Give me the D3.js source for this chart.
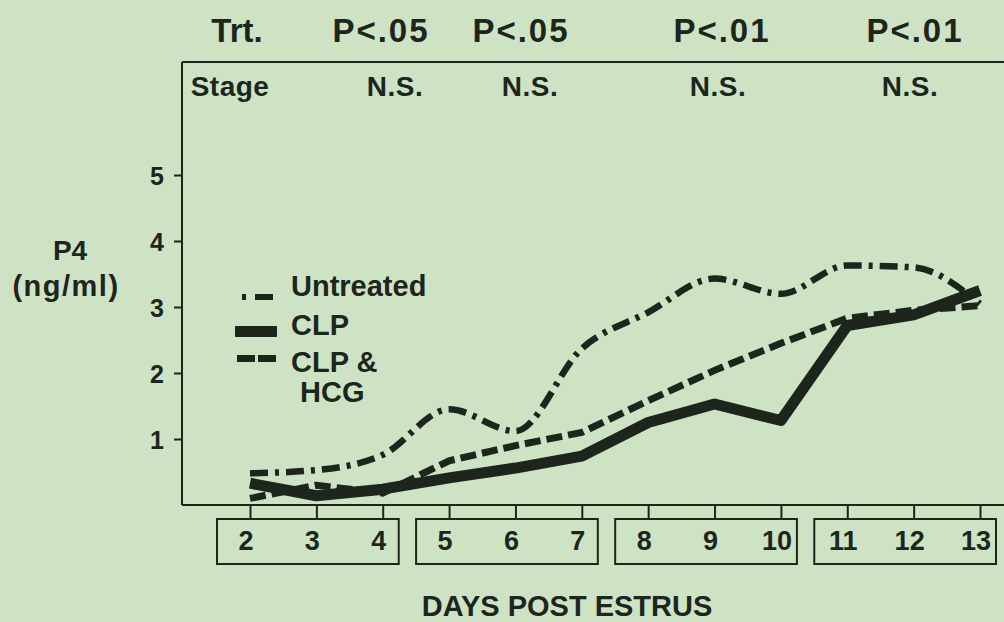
<!DOCTYPE html>
<html>
<head>
<meta charset="utf-8">
<script src="https://cdn.jsdelivr.net/npm/d3@7"></script>
<style>
  html, body { margin: 0; padding: 0; background: #cee3c4; }
  svg { display: block; }
  text { fill: #1d261d; font-family: "Liberation Sans", Arial, Helvetica, sans-serif; font-weight: bold; }
</style>
</head>
<body>
<svg id="chart" width="1004" height="622"></svg>
<script>
// ---- data ----
const days = [2, 3, 4, 5, 6, 7, 8, 9, 10, 11, 12, 13];
const untreated = [0.48, 0.53, 0.76, 1.45, 1.12, 2.37, 2.92, 3.43, 3.20, 3.63, 3.60, 3.05];
const clp = [0.33, 0.14, 0.24, 0.41, 0.56, 0.74, 1.25, 1.53, 1.28, 2.72, 2.88, 3.25];
const clpHcg = [0.10, 0.30, 0.18, 0.67, 0.90, 1.10, 1.58, 2.04, 2.45, 2.83, 2.95, 3.02];
const yTicks = [1, 2, 3, 4, 5];
const stageGroups = [[2, 4], [5, 7], [8, 10], [11, 13]];
const trtLabels = ["Trt.", "P<.05", "P<.05", "P<.01", "P<.01"];
const stageLabels = ["Stage", "N.S.", "N.S.", "N.S.", "N.S."];
const legendNames = ["Untreated", "CLP", "CLP &"];
const xTitle = "DAYS POST ESTRUS";

// ---- layout ----
const svg = d3.select("#chart");
const ink = "#1d261d";
const x = d3.scaleLinear().domain([2, 13]).range([250, 980]);
const y = d3.scaleLinear().domain([0, 5]).range([505, 175]);
const frameTop = 62, axisX = 182;

// frame: left axis line + top line
svg.append("line").attr("x1", axisX).attr("x2", axisX).attr("y1", frameTop).attr("y2", y(0))
  .attr("stroke", ink).attr("stroke-width", 2);
svg.append("line").attr("x1", axisX).attr("x2", 1006).attr("y1", frameTop).attr("y2", frameTop)
  .attr("stroke", ink).attr("stroke-width", 2);

// y axis
const yAxis = d3.axisLeft(y).tickValues(yTicks).tickSize(8).tickPadding(10).tickFormat(d3.format("d"));
const gy = svg.append("g").attr("transform", `translate(${axisX},0)`).call(yAxis);
gy.select(".domain").remove();
gy.selectAll(".tick line").attr("stroke", ink).attr("stroke-width", 2);
gy.selectAll(".tick text").attr("font-size", null).style("font-size", "25px")
  .attr("font-family", null).attr("fill", ink).attr("dy", "0.36em");

// x axis (line at y=0, ticks down to boxes)
svg.append("line").attr("x1", axisX).attr("x2", 1006).attr("y1", y(0)).attr("y2", y(0))
  .attr("stroke", ink).attr("stroke-width", 2);
const boxTop = 519, boxBottom = 564;
const xAxis = d3.axisBottom(x).tickValues(days).tickSize(boxTop - y(0)).tickFormat("");
const gx = svg.append("g").attr("transform", `translate(0,${y(0)})`).call(xAxis);
gx.select(".domain").remove();
gx.selectAll(".tick line").attr("stroke", ink).attr("stroke-width", 2);

// stage boxes
stageGroups.forEach(([a, b]) => {
  svg.append("rect")
    .attr("x", x(a) - 33).attr("y", boxTop)
    .attr("width", (x(b) + 16) - (x(a) - 33)).attr("height", boxBottom - boxTop)
    .attr("fill", "none").attr("stroke", ink).attr("stroke-width", 2);
});
svg.append("g").selectAll("text").data(days).join("text")
  .attr("x", d => x(d) - 4).attr("y", 550)
  .attr("text-anchor", "middle").style("font-size", "27px")
  .text(d => d);

// axis titles
svg.append("text").attr("x", 567).attr("y", 616).attr("text-anchor", "middle")
  .style("font-size", "29px").text(xTitle);
svg.append("text").attr("x", 70).attr("y", 260).attr("text-anchor", "middle")
  .style("font-size", "28px").text("P4");
svg.append("text").attr("x", 66).attr("y", 296).attr("text-anchor", "middle")
  .style("font-size", "29px").style("letter-spacing", "1.5px").text("(ng/ml)");

// header rows
const trtX = [237, 381, 521, 722, 915];
const stageX = [230, 395, 530, 718, 910];
svg.append("g").selectAll("text").data(trtLabels).join("text")
  .attr("x", (d, i) => trtX[i]).attr("y", 42).attr("text-anchor", "middle")
  .style("font-size", "33px").style("letter-spacing", (d, i) => i ? "2px" : "0px")
  .text(d => d);
svg.append("g").selectAll("text").data(stageLabels).join("text")
  .attr("x", (d, i) => stageX[i]).attr("y", 96).attr("text-anchor", "middle")
  .style("font-size", "28px").style("letter-spacing", "0.5px").text(d => d);

// series lines
const mk = vals => days.map((d, i) => [d, vals[i]]);
const lineLin = d3.line().x(d => x(d[0])).y(d => y(d[1]));
const lineSmooth = d3.line().x(d => x(d[0])).y(d => y(d[1])).curve(d3.curveMonotoneX);

svg.append("path").datum(mk(clp)).attr("d", lineLin)
  .attr("fill", "none").attr("stroke", ink).attr("stroke-width", 11).attr("stroke-linejoin", "round");
svg.append("path").datum(mk(clpHcg)).attr("d", lineLin)
  .attr("fill", "none").attr("stroke", ink).attr("stroke-width", 7)
  .attr("stroke-dasharray", "16,6");
svg.append("path").datum(mk(untreated)).attr("d", lineSmooth)
  .attr("fill", "none").attr("stroke", ink).attr("stroke-width", 6.5)
  .attr("stroke-dasharray", "18,7,4,7");

// legend
const lg = svg.append("g");
lg.append("line").attr("x1", 242).attr("x2", 273).attr("y1", 297).attr("y2", 297)
  .attr("stroke", ink).attr("stroke-width", 6).attr("stroke-dasharray", "4,9,18,0");
lg.append("line").attr("x1", 235).attr("x2", 277).attr("y1", 331.5).attr("y2", 331.5)
  .attr("stroke", ink).attr("stroke-width", 11);
lg.append("line").attr("x1", 237).attr("x2", 277).attr("y1", 358.5).attr("y2", 358.5)
  .attr("stroke", ink).attr("stroke-width", 7).attr("stroke-dasharray", "18,3");
const legY = [296, 335, 372];
lg.selectAll("text.lab").data(legendNames).join("text").attr("class", "lab")
  .attr("x", 291).attr("y", (d, i) => legY[i]).style("font-size", "29px").text(d => d);
lg.append("text").attr("x", 300).attr("y", 402).style("font-size", "29px").text("HCG");
</script>
</body>
</html>
